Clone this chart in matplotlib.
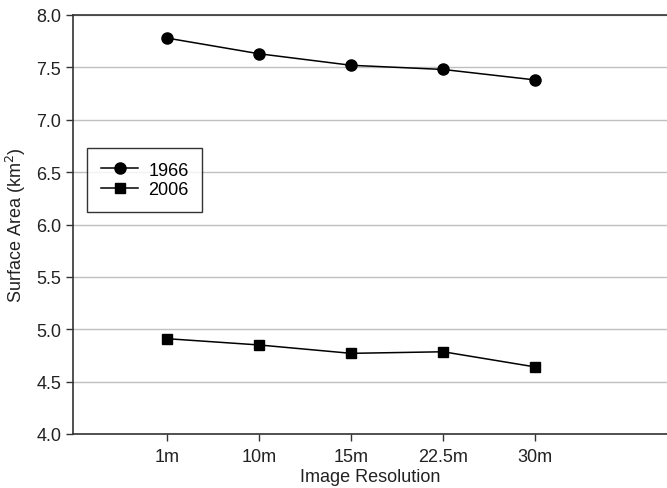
import matplotlib
matplotlib.use("Agg")
import matplotlib.pyplot as plt

# Data
resolutions = ["1m", "10m", "15m", "22.5m", "30m"]
area_1966 = [7.78, 7.63, 7.52, 7.48, 7.38]
area_2006 = [4.91, 4.85, 4.77, 4.785, 4.64]
y_ticks = [4.0, 4.5, 5.0, 5.5, 6.0, 6.5, 7.0, 7.5, 8.0]

plt.rcParams['font.family'] = ['Liberation Sans', 'DejaVu Sans']

fig = plt.figure(figsize=(6.67, 4.89), dpi=100)
ax = fig.add_axes([73 / 667, 1 - 435 / 489, 1 - 73 / 667, (435 - 16) / 489])

x = list(range(len(resolutions)))
ax.plot(x, area_1966, color='black', linewidth=1.1, marker='o', markersize=8, label='1966')
ax.plot(x, area_2006, color='black', linewidth=1.1, marker='s', markersize=7.5, label='2006')

ax.set_xlim(-1.02, 5.43)
ax.set_ylim(4.0, 8.0)
ax.set_yticks(y_ticks)
ax.set_yticklabels([f"{v:.1f}" for v in y_ticks])
ax.set_xticks(x)
ax.set_xticklabels(resolutions)

ax.yaxis.grid(True, color='#c0c0c0', linewidth=1)
ax.set_axisbelow(True)
ax.spines['right'].set_visible(False)
for s in ['left', 'bottom', 'top']:
    ax.spines[s].set_color('#333333')
    ax.spines[s].set_linewidth(1.2)

ax.tick_params(axis='both', direction='out', length=5, width=1, color='#333333',
               labelsize=13, labelcolor='#222222')
ax.tick_params(axis='x', pad=5)

ax.set_xlabel('Image Resolution', fontsize=13, color='#222222', labelpad=2)
ax.set_ylabel('Surface Area (km$^2$)', fontsize=13, color='#222222', labelpad=6)

leg = ax.legend(loc='upper left', bbox_to_anchor=((87 - 73) / 594, 1 - (149 - 16) / 419),
                frameon=True, fancybox=False, edgecolor='black', fontsize=13,
                handlelength=2.1, handletextpad=0.55, borderpad=0.75, labelspacing=0.15,
                borderaxespad=0)
leg.get_frame().set_linewidth(1.0)

fig.savefig("out.png", dpi=100)
